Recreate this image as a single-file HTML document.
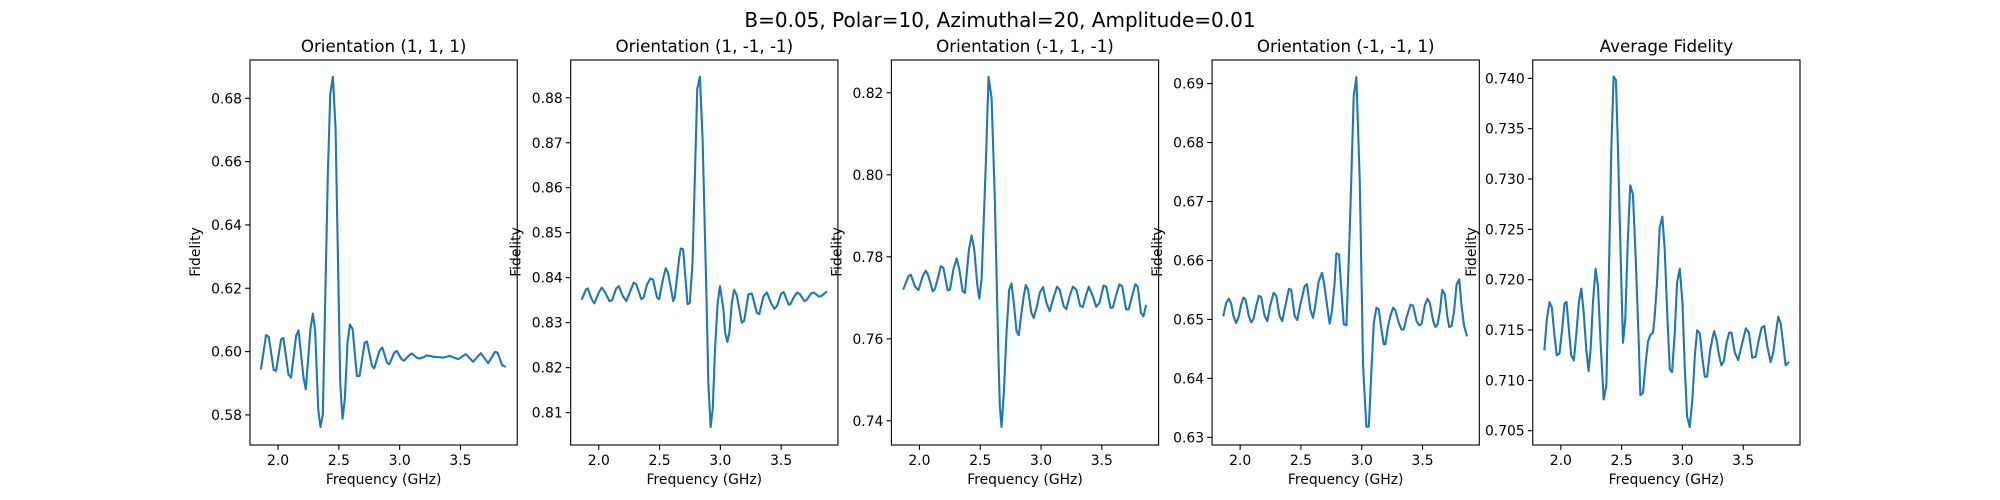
<!DOCTYPE html>
<html><head><meta charset="utf-8">
<style>
html,body{margin:0;padding:0;background:#fff;}
svg{display:block;font-family:"DejaVu Sans","Liberation Sans",sans-serif;}
</style></head>
<body>
<svg id="fig" width="2000" height="500" viewBox="0 0 2000 500" xmlns="http://www.w3.org/2000/svg">
<rect width="2000" height="500" fill="#fff"/>
<text x="1000" y="27" font-size="20" text-anchor="middle" fill="#000">B=0.05, Polar=10, Azimuthal=20, Amplitude=0.01</text>
</svg>
<script>
const titles = ["Orientation (1, 1, 1)","Orientation (1, -1, -1)","Orientation (-1, 1, -1)","Orientation (-1, -1, 1)","Average Fidelity"];
const xTicks = [2.0,2.5,3.0,3.5];
const xTickLabels = ["2.0","2.5","3.0","3.5"];
const xLim = [1.769,3.967];
const yLims = [[0.5705,0.6921],[0.8028,0.8884],[0.7341,0.8280],[0.6287,0.6940],[0.70358,0.74182]];
const yTicks = [
 [0.58,0.60,0.62,0.64,0.66,0.68],
 [0.81,0.82,0.83,0.84,0.85,0.86,0.87,0.88],
 [0.74,0.76,0.78,0.80,0.82],
 [0.63,0.64,0.65,0.66,0.67,0.68,0.69],
 [0.705,0.710,0.715,0.720,0.725,0.730,0.735,0.740]];
const yTickLabels = [
 ["0.58","0.60","0.62","0.64","0.66","0.68"],
 ["0.81","0.82","0.83","0.84","0.85","0.86","0.87","0.88"],
 ["0.74","0.76","0.78","0.80","0.82"],
 ["0.63","0.64","0.65","0.66","0.67","0.68","0.69"],
 ["0.705","0.710","0.715","0.720","0.725","0.730","0.735","0.740"]];

const freq1 = [1.860,1.901,1.923,1.964,1.984,2.025,2.044,2.085,2.107,2.148,2.168,2.209,2.228,2.266,2.286,2.305,2.330,2.349,2.368,2.409,2.429,2.451,2.473,2.511,2.530,2.549,2.571,2.591,2.613,2.648,2.670,2.712,2.731,2.772,2.791,2.835,2.857,2.896,2.915,2.956,2.975,3.016,3.036,3.077,3.099,3.140,3.159,3.201,3.220,3.275,3.357,3.412,3.481,3.544,3.604,3.668,3.728,3.783,3.805,3.843,3.865];
const fid1 = [0.5947,0.6052,0.6047,0.5942,0.5939,0.6039,0.6043,0.5928,0.5918,0.6049,0.6067,0.5918,0.5881,0.6071,0.6120,0.6065,0.5818,0.5762,0.5802,0.6555,0.6813,0.6868,0.6702,0.5902,0.5788,0.5849,0.6028,0.6086,0.6071,0.5923,0.5923,0.6028,0.6032,0.5955,0.5947,0.6004,0.6013,0.5965,0.5960,0.5997,0.6002,0.5976,0.5971,0.5988,0.5994,0.5981,0.5978,0.5983,0.5988,0.5984,0.5981,0.5986,0.5976,0.5992,0.5968,0.5995,0.5963,0.5999,0.5997,0.5957,0.5953];

const freq2 = [1.862,1.895,1.909,1.942,1.964,2.000,2.025,2.052,2.088,2.110,2.143,2.165,2.198,2.226,2.259,2.287,2.309,2.350,2.369,2.397,2.424,2.446,2.479,2.496,2.529,2.551,2.570,2.612,2.625,2.661,2.675,2.694,2.730,2.749,2.771,2.810,2.832,2.854,2.887,2.901,2.920,2.937,2.956,2.978,2.997,3.025,3.039,3.058,3.074,3.094,3.113,3.135,3.176,3.196,3.231,3.259,3.300,3.320,3.355,3.383,3.416,3.444,3.466,3.501,3.521,3.562,3.576,3.603,3.631,3.653,3.691,3.708,3.747,3.769,3.810,3.829,3.871];
const fid2 = [0.8353,0.8374,0.8376,0.8352,0.8343,0.8367,0.8378,0.8367,0.8348,0.8350,0.8376,0.8381,0.8359,0.8348,0.8370,0.8389,0.8385,0.8352,0.8356,0.8385,0.8398,0.8396,0.8356,0.8352,0.8398,0.8421,0.8411,0.8348,0.8356,0.8444,0.8465,0.8463,0.8341,0.8344,0.8433,0.8819,0.8847,0.8707,0.8344,0.8167,0.8068,0.8107,0.8241,0.8344,0.8381,0.8330,0.8278,0.8257,0.8278,0.8344,0.8373,0.8361,0.8300,0.8304,0.8363,0.8365,0.8322,0.8319,0.8359,0.8367,0.8344,0.8331,0.8337,0.8365,0.8368,0.8340,0.8341,0.8356,0.8367,0.8364,0.8348,0.8350,0.8365,0.8367,0.8358,0.8359,0.8368];

const freq3 = [1.869,1.910,1.929,1.964,1.992,2.027,2.052,2.074,2.109,2.128,2.156,2.175,2.197,2.232,2.251,2.279,2.306,2.328,2.355,2.374,2.407,2.429,2.451,2.475,2.492,2.511,2.546,2.568,2.593,2.620,2.648,2.661,2.675,2.694,2.716,2.738,2.757,2.776,2.798,2.817,2.839,2.858,2.874,2.893,2.921,2.940,2.967,2.989,3.016,3.044,3.071,3.098,3.131,3.153,3.186,3.208,3.235,3.262,3.290,3.322,3.344,3.372,3.393,3.426,3.454,3.481,3.514,3.536,3.571,3.590,3.617,3.645,3.667,3.699,3.721,3.749,3.776,3.795,3.822,3.842,3.863];
const fid3 = [0.7722,0.7753,0.7756,0.7727,0.7719,0.7753,0.7766,0.7753,0.7716,0.7722,0.7753,0.7777,0.7773,0.7718,0.7720,0.7769,0.7796,0.7769,0.7716,0.7712,0.7818,0.7852,0.7818,0.7733,0.7698,0.7745,0.8029,0.8239,0.8188,0.7940,0.7574,0.7436,0.7385,0.7468,0.7615,0.7720,0.7735,0.7688,0.7619,0.7609,0.7663,0.7704,0.7731,0.7720,0.7663,0.7651,0.7680,0.7712,0.7726,0.7688,0.7667,0.7696,0.7727,0.7720,0.7680,0.7672,0.7704,0.7727,0.7720,0.7680,0.7678,0.7708,0.7727,0.7704,0.7678,0.7688,0.7730,0.7727,0.7676,0.7676,0.7706,0.7733,0.7728,0.7672,0.7672,0.7704,0.7733,0.7727,0.7663,0.7655,0.7680];

const freq4 = [1.863,1.885,1.907,1.926,1.945,1.967,1.986,2.008,2.027,2.044,2.071,2.091,2.110,2.132,2.154,2.173,2.201,2.223,2.247,2.275,2.297,2.324,2.346,2.374,2.401,2.420,2.448,2.470,2.495,2.530,2.549,2.577,2.599,2.613,2.646,2.673,2.690,2.723,2.736,2.755,2.777,2.791,2.813,2.832,2.852,2.874,2.901,2.934,2.956,2.984,3.011,3.038,3.058,3.080,3.099,3.121,3.140,3.162,3.181,3.195,3.217,3.236,3.258,3.277,3.305,3.327,3.346,3.368,3.401,3.423,3.451,3.473,3.492,3.519,3.541,3.560,3.588,3.607,3.624,3.643,3.662,3.684,3.703,3.720,3.739,3.758,3.780,3.802,3.821,3.841,3.863];
const fid4 = [0.6507,0.6528,0.6535,0.6527,0.6506,0.6494,0.6503,0.6525,0.6537,0.6534,0.6506,0.6495,0.6501,0.6523,0.6540,0.6538,0.6506,0.6497,0.6523,0.6545,0.6540,0.6506,0.6497,0.6525,0.6552,0.6550,0.6506,0.6499,0.6525,0.6556,0.6560,0.6517,0.6503,0.6517,0.6565,0.6579,0.6562,0.6511,0.6493,0.6514,0.6562,0.6612,0.6610,0.6551,0.6492,0.6490,0.6647,0.6879,0.6911,0.6732,0.6421,0.6318,0.6318,0.6415,0.6494,0.6520,0.6517,0.6483,0.6458,0.6458,0.6489,0.6506,0.6520,0.6515,0.6494,0.6483,0.6483,0.6503,0.6525,0.6523,0.6497,0.6490,0.6492,0.6524,0.6535,0.6528,0.6497,0.6487,0.6492,0.6514,0.6550,0.6542,0.6506,0.6487,0.6489,0.6511,0.6559,0.6568,0.6523,0.6490,0.6473];

const freq5 = [1.865,1.885,1.907,1.926,1.948,1.967,1.989,2.011,2.030,2.047,2.066,2.085,2.107,2.126,2.148,2.168,2.187,2.209,2.228,2.245,2.264,2.286,2.305,2.327,2.352,2.374,2.396,2.415,2.434,2.453,2.470,2.489,2.511,2.530,2.552,2.571,2.593,2.615,2.640,2.654,2.676,2.698,2.717,2.736,2.758,2.772,2.791,2.813,2.835,2.854,2.876,2.896,2.915,2.937,2.956,2.978,3.000,3.019,3.038,3.060,3.082,3.102,3.121,3.143,3.165,3.184,3.203,3.225,3.245,3.261,3.280,3.302,3.321,3.341,3.363,3.385,3.404,3.431,3.459,3.486,3.522,3.547,3.574,3.602,3.629,3.651,3.673,3.698,3.725,3.747,3.769,3.788,3.808,3.830,3.849,3.871];
const fid5 = [0.71308,0.71606,0.71778,0.71722,0.7144,0.71248,0.71268,0.71507,0.71765,0.71778,0.71507,0.71248,0.71199,0.7144,0.71772,0.71911,0.71689,0.71308,0.71093,0.71308,0.71772,0.72109,0.71937,0.71374,0.70811,0.70944,0.72103,0.73295,0.74017,0.73983,0.73295,0.72368,0.71374,0.71606,0.72434,0.72937,0.72848,0.72235,0.71407,0.70854,0.70877,0.71175,0.71387,0.7145,0.71474,0.71639,0.7197,0.72517,0.72626,0.72301,0.71639,0.71109,0.71083,0.71474,0.7197,0.72109,0.71772,0.71142,0.70646,0.70536,0.70811,0.71242,0.71497,0.71467,0.71209,0.71036,0.71036,0.71275,0.71407,0.7149,0.71407,0.71242,0.71149,0.71192,0.71374,0.71474,0.71474,0.71275,0.71202,0.71341,0.71517,0.71474,0.71225,0.71235,0.71407,0.71523,0.7154,0.71341,0.71182,0.71275,0.71474,0.71632,0.71566,0.71348,0.71149,0.71175];

const freqs = [freq1,freq2,freq3,freq4,freq5];
const fids = [fid1,fid2,fid3,fid4,fid5];

const NS = "http://www.w3.org/2000/svg";
const svg = document.getElementById('fig');
function mk(tag, attrs, parent){
  const e = document.createElementNS(NS, tag);
  for (const k in attrs) e.setAttribute(k, attrs[k]);
  (parent||svg).appendChild(e);
  return e;
}
const AXW = 267.24, GAP = 53.45, TOP = 60, BOT = 445;
for (let i=0;i<5;i++){
  const L = 250 + i*(AXW+GAP), R = L + AXW;
  const g = mk('g',{});
  
  
  const xs = v => L + (v - xLim[0])/(xLim[1]-xLim[0])*AXW;
  const ys = v => BOT - (v - yLims[i][0])/(yLims[i][1]-yLims[i][0])*(BOT-TOP);
  let d = '';
  freqs[i].forEach((f,j)=>{ d += (j?'L':'M') + xs(f).toFixed(2) + ' ' + ys(fids[i][j]).toFixed(2); });
  const line = mk('path',{d:d, fill:'none', stroke:'#1f77b4', 'stroke-width':2.1, 'stroke-linejoin':'round', 'stroke-linecap':'square'}, g);
  
  
  const fr = mk('rect',{x:L, y:TOP, width:AXW, height:BOT-TOP, fill:'none', stroke:'#000', 'stroke-width':1.1}, g);
  
  
  xTicks.forEach((t,k)=>{
    const x = xs(t);
    mk('line',{x1:x,x2:x,y1:BOT,y2:BOT+4.9,stroke:'#000','stroke-width':1.1}, g);
    const tx = mk('text',{x:x, y:BOT+20, 'font-size':13.9, 'text-anchor':'middle', fill:'#000'}, g);
    tx.textContent = xTickLabels[k];
    
    
  });
  yTicks[i].forEach((t,k)=>{
    const y = ys(t);
    mk('line',{x1:L-4.9,x2:L,y1:y,y2:y,stroke:'#000','stroke-width':1.1}, g);
    const ty = mk('text',{x:L-8, y:y+5, 'font-size':13.9, 'text-anchor':'end', fill:'#000'}, g);
    ty.textContent = yTickLabels[i][k];
    
    
  });
  const tt = mk('text',{x:(L+R)/2, y:52, 'font-size':16.7, 'text-anchor':'middle', fill:'#000'}, g);
  tt.textContent = titles[i];
  
  
  const xl = mk('text',{x:(L+R)/2, y:484, 'font-size':13.9, 'text-anchor':'middle', fill:'#000'}, g);
  xl.textContent = 'Frequency (GHz)';
  
  
  const ylx = L - (i===4 ? 57 : 50);
  const yl = mk('text',{x:ylx, y:252, 'font-size':13.9, 'text-anchor':'middle', fill:'#000', transform:'rotate(-90 '+ylx+' 252)'}, g);
  yl.textContent = 'Fidelity';
  
  
}
</script>
</body></html>
